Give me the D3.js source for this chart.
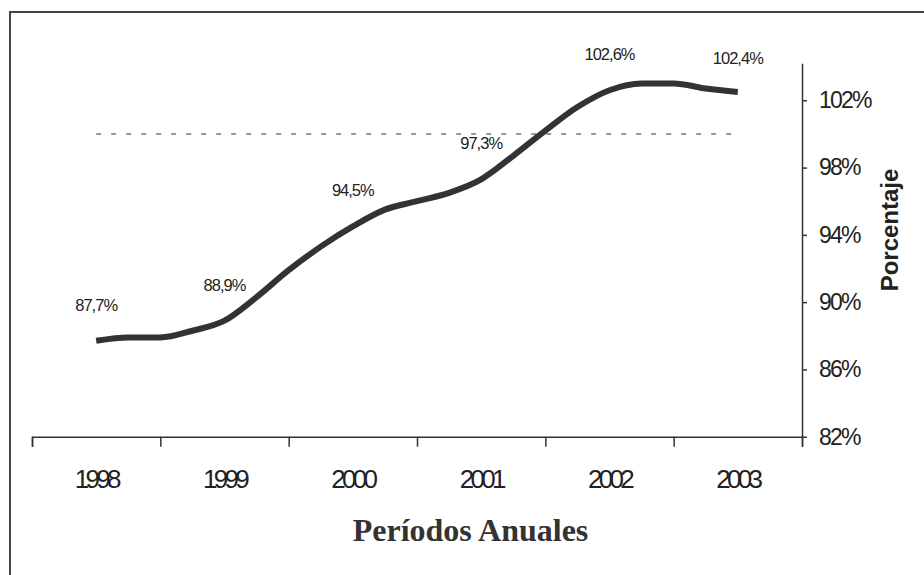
<!DOCTYPE html>
<html>
<head>
<meta charset="utf-8">
<script src="https://cdn.jsdelivr.net/npm/d3@7"></script>
<style>
  body { margin: 0; background: #fff; }
  svg { display: block; }
</style>
</head>
<body>
<svg width="924" height="575"></svg>
<script>
// yearly categories on the x axis
const years = ['1998', '1999', '2000', '2001', '2002', '2003'];

const periods = [1998, 1998.25, 1998.5, 1998.75, 1999, 1999.25, 1999.5, 1999.75,
                 2000, 2000.25, 2000.5, 2000.75, 2001, 2001.25, 2001.5, 2001.75,
                 2002, 2002.25, 2002.5, 2002.75, 2003];
const values = [87.7, 87.9, 87.9, 88.3, 88.9, 90.3, 91.9, 93.3,
                94.5, 95.5, 96.0, 96.5, 97.3, 98.7, 100.2, 101.6,
                102.6, 103.0, 103.0, 102.7, 102.5];

// labelled points (one per year)
const labelPeriods = [1998, 1999, 2000, 2001, 2002, 2003];
const labelValues = [87.7, 88.9, 94.5, 97.3, 102.6, 102.4];

// reference line
const target = 100;

const yTicks = [82, 86, 90, 94, 98, 102];

const svg = d3.select('svg');

// outer frame (runs off the right and bottom of the picture)
svg.append('rect')
  .attr('x', 10).attr('y', 12)
  .attr('width', 940).attr('height', 600)
  .attr('fill', 'none')
  .attr('stroke', '#444')
  .attr('stroke-width', 2);

const x = d3.scaleBand()
  .domain(years)
  .range([32, 802]);

// boundaries between year bands
const xEdge = d3.scaleLinear()
  .domain([0, years.length])
  .range([32, 802]);

const xTime = d3.scaleLinear()
  .domain([1998, 2003])
  .range([x('1998') + x.bandwidth() / 2, x('2003') + x.bandwidth() / 2]);

const y = d3.scaleLinear()
  .domain([82, 104.2])
  .range([436.7, 63.3]);

const axisColor = '#333';

// x axis: line + boundary ticks
svg.append('g')
  .attr('transform', `translate(0,${y(82)})`)
  .call(d3.axisBottom(xEdge).tickValues(d3.range(0, years.length + 1)).tickSize(10).tickFormat(''));

// year labels
const gx = svg.append('g')
  .attr('transform', `translate(0,${y(82)})`)
  .call(d3.axisBottom(x).tickSize(0));
gx.select('.domain').remove();
gx.selectAll('text')
  .attr('y', 51)
  .attr('dy', null)
  .style('font-family', '"Liberation Sans", Arial, sans-serif')
  .style('font-size', '26px')
  .style('letter-spacing', '-3.7px')
  .attr('fill', '#222');

// y axis on the right
const gy = svg.append('g')
  .attr('transform', `translate(802,0)`)
  .call(d3.axisRight(y).tickValues(yTicks).tickSize(5).tickSizeOuter(0).tickPadding(12)
    .tickFormat(d => d + '%'));
gy.selectAll('text')
  .style('font-family', '"Liberation Sans", Arial, sans-serif')
  .style('font-size', '23px')
  .style('letter-spacing', '-1.8px')
  .attr('fill', '#222');

svg.selectAll('.domain, .tick line')
  .attr('stroke', axisColor)
  .attr('stroke-width', 1.5);

// dashed 100% reference
svg.append('line')
  .attr('x1', xTime(1998)).attr('x2', xTime(2003))
  .attr('y1', y(target)).attr('y2', y(target))
  .attr('stroke', '#999')
  .attr('stroke-width', 2)
  .attr('stroke-dasharray', '5,10');

// main series
const line = d3.line()
  .x((d, i) => xTime(periods[i]))
  .y(d => y(d))
  .curve(d3.curveMonotoneX);

svg.append('path')
  .datum(values)
  .attr('d', line)
  .attr('fill', 'none')
  .attr('stroke', '#333')
  .attr('stroke-width', 6)
  .attr('stroke-linejoin', 'round');

// data labels
svg.selectAll('.dlabel')
  .data(labelValues)
  .enter()
  .append('text')
  .classed('dlabel', true)
  .attr('x', (d, i) => xTime(labelPeriods[i]))
  .attr('y', d => y(d) - 30)
  .attr('text-anchor', 'middle')
  .style('font-family', '"Liberation Sans", Arial, sans-serif')
  .style('font-size', '16.5px')
  .style('letter-spacing', '-1px')
  .attr('fill', '#222')
  .text(d => d.toFixed(1).replace('.', ',') + '%');

// axis titles
svg.append('text')
  .attr('x', 470.5)
  .attr('y', 541)
  .attr('text-anchor', 'middle')
  .style('font-family', '"Liberation Serif", "Times New Roman", serif')
  .style('font-weight', 'bold')
  .style('font-size', '32px')
  .attr('fill', '#333')
  .text('Períodos Anuales');

svg.append('text')
  .attr('transform', 'translate(898,230) rotate(-90)')
  .attr('text-anchor', 'middle')
  .style('font-family', '"Liberation Sans", Arial, sans-serif')
  .style('font-weight', 'bold')
  .style('font-size', '24px')
  .attr('fill', '#222')
  .text('Porcentaje');
</script>
</body>
</html>
